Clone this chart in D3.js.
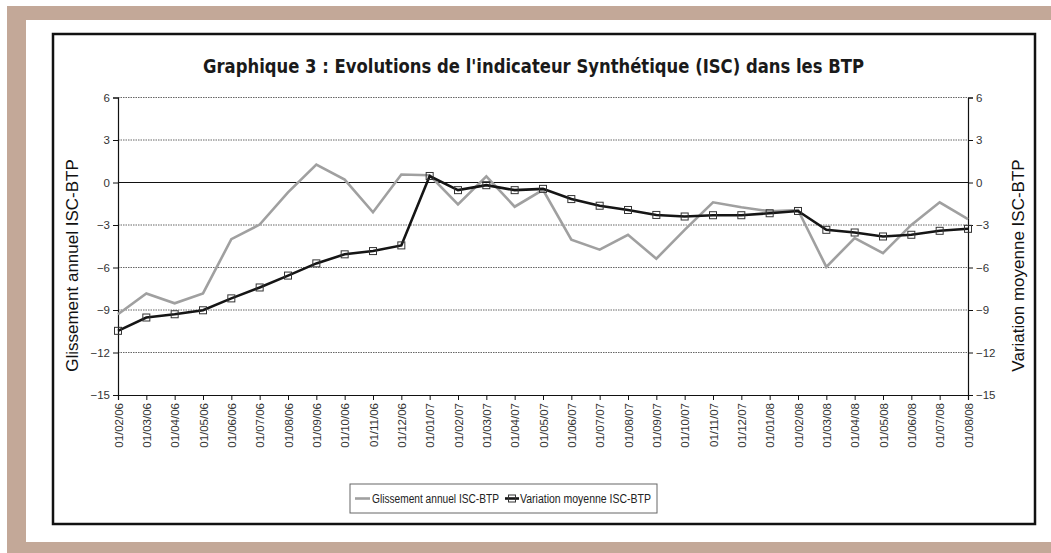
<!DOCTYPE html>
<html>
<head>
<meta charset="utf-8">
<script src="https://cdn.jsdelivr.net/npm/d3@7"></script>
<style>
  html, body { margin: 0; padding: 0; background: #fff; }
  svg { display: block; }
</style>
</head>
<body>
<svg id="chart" width="1051" height="553"></svg>
<script>
// data
const dates = ["01/02/06","01/03/06","01/04/06","01/05/06","01/06/06","01/07/06","01/08/06","01/09/06",
  "01/10/06","01/11/06","01/12/06","01/01/07","01/02/07","01/03/07","01/04/07","01/05/07","01/06/07",
  "01/07/07","01/08/07","01/09/07","01/10/07","01/11/07","01/12/07","01/01/08","01/02/08","01/03/08",
  "01/04/08","01/05/08","01/06/08","01/07/08","01/08/08"]

const glissement = [-9.3, -7.83, -8.53, -7.83, -4.0, -2.97, -0.7, 1.26, 0.21, -2.1, 0.56, 0.51,
  -1.54, 0.44, -1.71, -0.52, -4.04, -4.74, -3.69, -5.38, -3.34, -1.4, -1.75, -2.03, -1.94,
  -5.96, -3.92, -4.98, -2.99, -1.4, -2.59]

const variation = [-10.47, -9.53, -9.3, -9.02, -8.18, -7.41, -6.57, -5.71, -5.07, -4.84, -4.44, 0.46,
  -0.54, -0.19, -0.54, -0.45, -1.17, -1.64, -1.94, -2.29, -2.4, -2.31, -2.31, -2.17, -2.01,
  -3.34, -3.53, -3.81, -3.69, -3.41, -3.27]

const yTicks = [-15, -12, -9, -6, -3, 0, 3, 6]

const seriesNames = ["Glissement annuel ISC-BTP", "Variation moyenne ISC-BTP"]

const svg = d3.select("#chart")

// page frame
svg.append("rect").attr("x", 7).attr("y", 6).attr("width", 1044).attr("height", 547).attr("fill", "#c3a898")
svg.append("rect").attr("x", 26).attr("y", 20).attr("width", 1025).attr("height", 522).attr("fill", "#fff")

// chart border
svg.append("rect").attr("x", 53).attr("y", 34).attr("width", 982).attr("height", 490)
  .attr("fill", "#fff").attr("stroke", "#111").attr("stroke-width", 2.5)

const tickFont = "'Liberation Sans', Arial, sans-serif"

const x = d3.scalePoint().domain(dates).range([118, 968])
const y = d3.scaleLinear().domain([-15, 6]).range([395, 97.5])

// gridlines
svg.append("g").selectAll("line")
  .data(yTicks.filter(d => d !== -15 && d !== 0))
  .enter().append("line")
  .attr("x1", 118).attr("x2", 968)
  .attr("y1", d => y(d)).attr("y2", d => y(d))
  .attr("stroke", "#666").attr("stroke-width", 1).attr("stroke-dasharray", "1.5 1")

// zero line
svg.append("line").attr("x1", 118).attr("x2", 968).attr("y1", y(0)).attr("y2", y(0))
  .attr("stroke", "#111").attr("stroke-width", 1.2)

// axes
const yAxisL = d3.axisLeft(y).tickValues(yTicks).tickSize(5).tickPadding(3)
const yAxisR = d3.axisRight(y).tickValues(yTicks).tickSize(5).tickPadding(3)
const xAxis = d3.axisBottom(x).tickSize(5).tickPadding(3)

const gl = svg.append("g").attr("class", "y-axis").attr("transform", "translate(118,0)").call(yAxisL)
const gr = svg.append("g").attr("class", "y-axis").attr("transform", "translate(968,0)").call(yAxisR)
const gx = svg.append("g").attr("class", "x-axis").attr("transform", `translate(0,${y(-15)})`).call(xAxis)

svg.selectAll(".y-axis path, .x-axis path").attr("stroke", "#111").attr("stroke-width", 1.2)
svg.selectAll(".y-axis .tick line, .x-axis .tick line").attr("stroke", "#111")
svg.selectAll(".y-axis text").style("font-family", tickFont).style("font-size", "11.5px").attr("fill", "#333")

gx.selectAll("text")
  .style("font-family", tickFont).style("font-size", "11.5px").attr("fill", "#333")
  .attr("text-anchor", "end")
  .attr("transform", "rotate(-90)")
  .attr("x", -8).attr("y", 0).attr("dy", "0.35em")

// lines
const line = d3.line().x((d, i) => x(dates[i])).y(d => y(d))

svg.append("path").datum(glissement)
  .attr("d", line).attr("fill", "none")
  .attr("stroke", "#a0a0a0").attr("stroke-width", 2.6).attr("stroke-linejoin", "miter")

svg.append("path").datum(variation)
  .attr("d", line).attr("fill", "none")
  .attr("stroke", "#151515").attr("stroke-width", 2.6)

svg.append("g").selectAll("rect")
  .data(variation)
  .enter().append("rect")
  .attr("x", (d, i) => x(dates[i]) - 3.5)
  .attr("y", d => y(d) - 3.5)
  .attr("width", 7).attr("height", 7)
  .attr("fill", "none").attr("stroke", "#333").attr("stroke-width", 1)

// title
svg.append("text")
  .attr("x", 533.5).attr("y", 73)
  .attr("text-anchor", "middle")
  .attr("textLength", 661).attr("lengthAdjust", "spacingAndGlyphs")
  .style("font-family", "'DejaVu Sans', sans-serif")
  .style("font-weight", "bold").style("font-size", "20px").attr("fill", "#1a1a1a")
  .text("Graphique 3 : Evolutions de l'indicateur Synthétique (ISC) dans les BTP")

// axis titles
svg.append("text")
  .attr("transform", `translate(78,${(98 + 395) / 2 + 19}) rotate(-90)`)
  .attr("text-anchor", "middle")
  .style("font-family", "'Liberation Sans', Arial, sans-serif").style("font-size", "17px").attr("fill", "#111")
  .text(seriesNames[0])

svg.append("text")
  .attr("transform", `translate(1024,${(98 + 395) / 2 + 19}) rotate(-90)`)
  .attr("text-anchor", "middle")
  .style("font-family", "'Liberation Sans', Arial, sans-serif").style("font-size", "17px").attr("fill", "#111")
  .text(seriesNames[1])

// legend
const legend = svg.append("g").attr("transform", "translate(350,484)")
legend.append("rect").attr("width", 307).attr("height", 29)
  .attr("fill", "#fff").attr("stroke", "#666").attr("stroke-width", 1)

legend.append("line").attr("x1", 5).attr("x2", 20).attr("y1", 14.5).attr("y2", 14.5)
  .attr("stroke", "#a0a0a0").attr("stroke-width", 2.6)
legend.append("text").attr("x", 22).attr("y", 18.5)
  .attr("textLength", 127).attr("lengthAdjust", "spacingAndGlyphs")
  .style("font-family", tickFont).style("font-size", "12px").attr("fill", "#222")
  .text(seriesNames[0])

legend.append("line").attr("x1", 155).attr("x2", 169).attr("y1", 14.5).attr("y2", 14.5)
  .attr("stroke", "#151515").attr("stroke-width", 2.6)
legend.append("rect").attr("x", 158.5).attr("y", 11).attr("width", 7).attr("height", 7)
  .attr("fill", "none").attr("stroke", "#333")
legend.append("text").attr("x", 170).attr("y", 18.5)
  .attr("textLength", 131).attr("lengthAdjust", "spacingAndGlyphs")
  .style("font-family", tickFont).style("font-size", "12px").attr("fill", "#222")
  .text(seriesNames[1])
</script>
</body>
</html>
